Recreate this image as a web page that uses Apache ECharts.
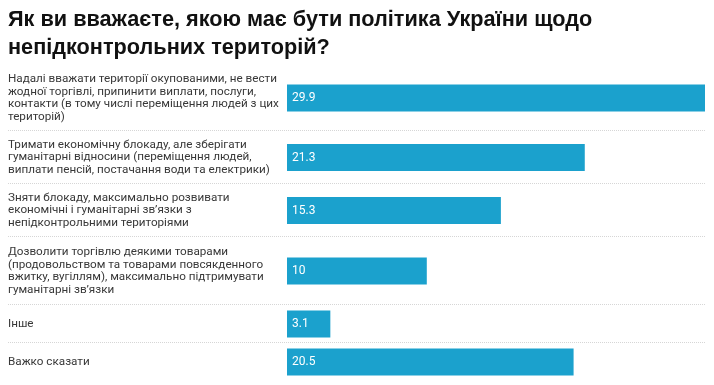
<!DOCTYPE html>
<html>
<head>
<meta charset="utf-8">
<script src="https://cdn.jsdelivr.net/npm/echarts@6/dist/echarts.min.js"></script>
<style>html,body{margin:0;padding:0;background:#fff}#c{width:714px;height:385px}</style>
</head>
<body>
<div id="c"></div>
<script>
var title = 'Як ви вважаєте, якою має бути політика України щодо\nнепідконтрольних територій?';
var categories = [
  'Надалі вважати території окупованими, не вести\nжодної торгівлі, припинити виплати, послуги,\nконтакти (в тому числі переміщення людей з цих\nтериторій)',
  'Тримати економічну блокаду, але зберігати\nгуманітарні відносини (переміщення людей,\nвиплати пенсій, постачання води та електрики)',
  'Зняти блокаду, максимально розвивати\nекономічні і гуманітарні зв’язки з\nнепідконтрольними територіями',
  'Дозволити торгівлю деякими товарами\n(продовольством та товарами повсякденного\nвжитку, вугіллям), максимально підтримувати\nгуманітарні зв’язки',
  'Інше',
  'Важко сказати'
];
var values = [29.9, 21.3, 15.3, 10, 3.1, 20.5];

// layout (pixels): row band tops and heights
var rowTops = [65, 131, 184, 237, 305, 343];
var rowHeights = [66, 53, 53, 68, 38, 38];

var chart = echarts.init(document.getElementById('c'));
var grids = [], xAxes = [], yAxes = [], series = [], graphics = [];
var xMax = Math.max.apply(null, values);
for (var i = 0; i < categories.length; i++) {
  grids.push({left: 287, width: 418, top: rowTops[i], height: rowHeights[i], containLabel: false});
  xAxes.push({type: 'value', gridIndex: i, min: 0, max: xMax, show: false});
  yAxes.push({
    type: 'category', gridIndex: i, data: [categories[i]],
    axisLine: {show: false}, axisTick: {show: false}, splitLine: {show: false},
    axisLabel: {align: 'left', margin: 279, fontSize: 11.7, lineHeight: 12.8, color: '#383838',
      fontFamily: 'Roboto'}
  });
  series.push({
    type: 'bar', xAxisIndex: i, yAxisIndex: i, data: [values[i]], barWidth: 27,
    itemStyle: {color: '#1ba1cd'}, silent: true,
    label: {show: true, position: 'insideLeft', distance: 5, color: '#fff', fontSize: 12,
      fontFamily: 'Roboto'}
  });
  if (i > 0) {
    graphics.push({type: 'line', shape: {x1: 8, y1: rowTops[i] - 0.5, x2: 706, y2: rowTops[i] - 0.5},
      style: {stroke: '#d6d6d6', lineWidth: 1, lineDash: [1, 1]}, silent: true});
  }
}

chart.setOption({
  animation: false,
  backgroundColor: '#fff',
  title: {text: title, left: 8, top: 6, padding: 0, textStyle: {fontSize: 21.7, fontWeight: 'bold',
    fontFamily: 'Liberation Sans', color: '#111', lineHeight: 28}},
  grid: grids, xAxis: xAxes, yAxis: yAxes, series: series, graphic: graphics
});
</script>
</body>
</html>
